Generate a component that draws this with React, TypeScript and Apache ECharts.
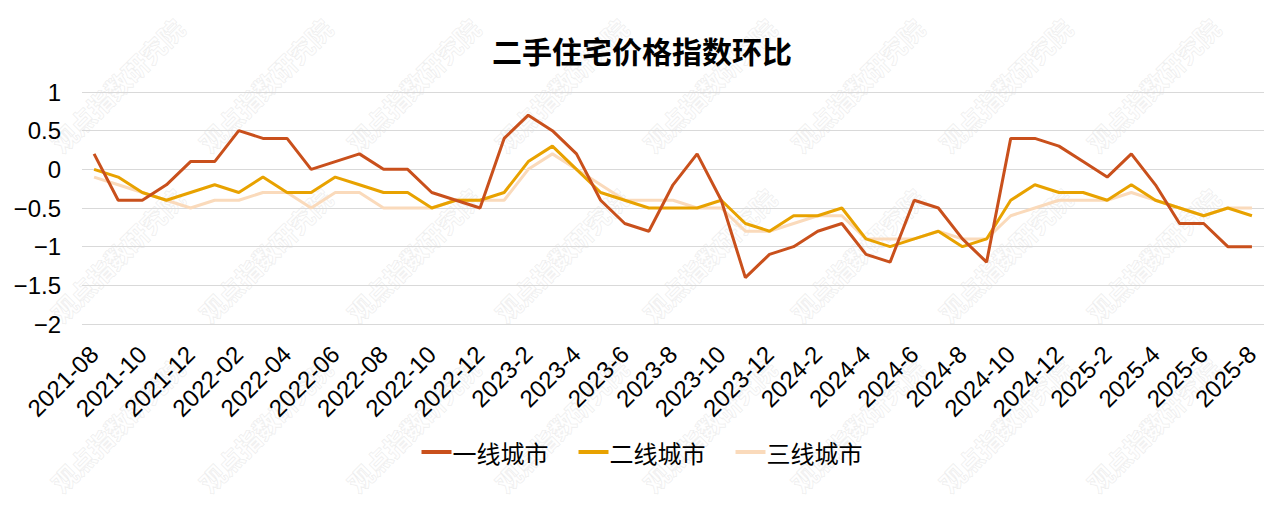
import React, { useEffect, useRef } from "react";
import * as echarts from "echarts";

const categories = [
  "2021-08", "2021-09", "2021-10", "2021-11", "2021-12",
  "2022-01", "2022-02", "2022-03", "2022-04", "2022-05", "2022-06",
  "2022-07", "2022-08", "2022-09", "2022-10", "2022-11", "2022-12",
  "2023-1", "2023-2", "2023-3", "2023-4", "2023-5", "2023-6",
  "2023-7", "2023-8", "2023-9", "2023-10", "2023-11", "2023-12",
  "2024-1", "2024-2", "2024-3", "2024-4", "2024-5", "2024-6",
  "2024-7", "2024-8", "2024-9", "2024-10", "2024-11", "2024-12",
  "2025-1", "2025-2", "2025-3", "2025-4", "2025-5", "2025-6",
  "2025-7", "2025-8",
];

const tier1 = [
  0.2, -0.4, -0.4, -0.2, 0.1, 0.1, 0.5, 0.4, 0.4, 0, 0.1, 0.2, 0, 0, -0.3, -0.4, -0.5,
  0.4, 0.7, 0.5, 0.2, -0.4, -0.7, -0.8, -0.2, 0.2, -0.4, -1.4, -1.1,
  -1.0, -0.8, -0.7, -1.1, -1.2, -0.4, -0.5, -0.9, -1.2, 0.4, 0.4, 0.3,
  0.1, -0.1, 0.2, -0.2, -0.7, -0.7, -1.0, -1.0,
];

const tier2 = [
  0, -0.1, -0.3, -0.4, -0.3, -0.2, -0.3, -0.1, -0.3, -0.3, -0.1, -0.2, -0.3, -0.3, -0.5, -0.4, -0.4,
  -0.3, 0.1, 0.3, 0, -0.3, -0.4, -0.5, -0.5, -0.5, -0.4, -0.7, -0.8,
  -0.6, -0.6, -0.5, -0.9, -1.0, -0.9, -0.8, -1.0, -0.9, -0.4, -0.2, -0.3,
  -0.3, -0.4, -0.2, -0.4, -0.5, -0.6, -0.5, -0.6,
];

const tier3 = [
  -0.1, -0.2, -0.3, -0.4, -0.5, -0.4, -0.4, -0.3, -0.3, -0.5, -0.3, -0.3, -0.5, -0.5, -0.5, -0.4, -0.4,
  -0.4, 0, 0.2, 0, -0.2, -0.4, -0.4, -0.4, -0.5, -0.5, -0.8, -0.8,
  -0.7, -0.6, -0.6, -0.9, -0.9, -0.9, -0.8, -0.9, -0.9, -0.6, -0.5, -0.4,
  -0.4, -0.4, -0.3, -0.4, -0.5, -0.6, -0.5, -0.5,
];

const seriesNames = ["一线城市", "二线城市", "三线城市"];
const titleText = "二手住宅价格指数环比";
const watermarkText = "观点指数研究院";

const CJK = "'Noto Sans CJK SC', 'Noto Sans', sans-serif";
const LATIN = "'Liberation Sans', Arial, sans-serif";

export default function App() {
  const ref = useRef<HTMLDivElement>(null);

  useEffect(() => {
    document.body.style.margin = "0";
    if (!ref.current) return;
    const chart = echarts.init(ref.current, null, { renderer: "svg" });

    const watermarks: any[] = [];
    const rowsY = [85, 255, 425];
    for (let r = 0; r < rowsY.length; r++) {
      for (let c = 0; c < 8; c++) {
        watermarks.push({
          type: "group",
          x: 117 + c * 148,
          y: rowsY[r],
          rotation: Math.PI / 4,
          z: 100,
          silent: true,
          children: [
            {
              type: "text",
              x: 0,
              y: 0,
              silent: true,
              style: {
                text: watermarkText,
                fontSize: 25,
                fontFamily: CJK,
                fontWeight: "bold",
                fill: "rgba(255,255,255,0.6)",
                stroke: "rgba(190,190,190,0.3)",
                lineWidth: 1,
                align: "center",
                verticalAlign: "middle",
              },
            },
          ],
        });
      }
    }

    const colors = ["#C9501C", "#E8A200", "#FADABB"];

    chart.setOption({
      animation: false,
      backgroundColor: "#ffffff",
      color: colors,
      title: {
        text: titleText,
        left: "center",
        top: 30,
        textStyle: {
          fontSize: 30,
          fontWeight: "bold",
          fontFamily: CJK,
          color: "#000",
        },
      },
      legend: {
        data: seriesNames,
        left: "center",
        top: 435,
        icon: "rect",
        itemWidth: 30,
        itemHeight: 4,
        itemGap: 30,
        textStyle: { fontSize: 24, fontFamily: CJK, color: "#000", padding: [0, 0, 0, -4] },
      },
      grid: { left: 82, right: 20, top: 92, bottom: 193 },
      xAxis: {
        type: "category",
        data: categories,
        boundaryGap: true,
        axisLine: { show: false },
        axisTick: { show: false },
        axisLabel: {
          interval: 1,
          rotate: 45,
          fontSize: 24,
          margin: 26,
          color: "#000",
          fontFamily: LATIN,
        },
      },
      yAxis: {
        type: "value",
        min: -2,
        max: 1,
        interval: 0.5,
        axisLine: { show: false },
        axisTick: { show: false },
        splitLine: { lineStyle: { color: "#d9d9d9", width: 1 } },
        axisLabel: {
          fontSize: 24,
          margin: 21,
          color: "#000",
          fontFamily: LATIN,
          formatter: (v: number) => {
            const s = String(Math.abs(v));
            return v < 0 ? "\u2212" + s : s;
          },
        },
      },
      series: [tier1, tier2, tier3].map((d, i) => ({
        name: seriesNames[i],
        type: "line",
        data: d,
        symbol: "none",
        lineStyle: { width: 3, color: colors[i] },
        z: 10 - i,
      })),
      graphic: watermarks,
    });

    return () => chart.dispose();
  }, []);

  return <div ref={ref} style={{ width: 1284, height: 517 }} />;
}
